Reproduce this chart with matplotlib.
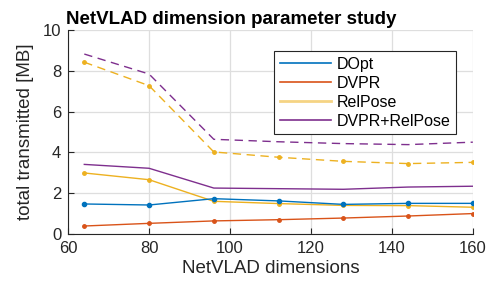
import numpy as np
import matplotlib.pyplot as plt
from matplotlib.lines import Line2D

# datos
dims = [64, 80, 96, 112, 128, 144, 160]
dopt = [1.47, 1.42, 1.73, 1.62, 1.45, 1.50, 1.50]
dopt_err = [0.10, 0.10, 0.10, 0.06, 0.05, 0.04, 0.05]
dvpr = [0.39, 0.52, 0.64, 0.70, 0.78, 0.88, 1.00]
relpose = [2.99, 2.66, 1.60, 1.49, 1.40, 1.39, 1.31]
relpose_dash = [8.42, 7.27, 4.02, 3.76, 3.56, 3.45, 3.51]
combo = [3.41, 3.22, 2.25, 2.22, 2.19, 2.30, 2.34]
combo_dash = [8.82, 7.84, 4.64, 4.52, 4.43, 4.38, 4.50]

labels = ['DOpt', 'DVPR', 'RelPose', 'DVPR+RelPose']
colors = ['#0072BD', '#D95319', '#EDB120', '#7E2F8E']

plt.rcParams['font.family'] = ['Liberation Sans', 'DejaVu Sans']

fig = plt.figure(figsize=(4.9, 2.91), dpi=100)
ax = fig.add_axes([0.139, 0.196, 0.826, 0.701])

ax.errorbar(dims, dopt, yerr=dopt_err, color=colors[0], lw=1.0,
            marker='o', ms=3, capsize=0, elinewidth=2.0)
ax.plot(dims, dvpr, color=colors[1], lw=1.0, marker='o', ms=2.5)
ax.plot(dims, relpose, color=colors[2], lw=1.0, marker='o', ms=2.5)
ax.plot(dims, combo, color=colors[3], lw=1.0)
ax.plot(dims, relpose_dash, color=colors[2], lw=1.0, ls=(0, (6, 4)), marker='o', ms=2.5)
ax.plot(dims, combo_dash, color=colors[3], lw=1.0, ls=(0, (6, 4)))

ax.set_xlim(60, 160)
ax.set_ylim(0, 10)
ax.set_xticks(np.arange(60, 161, 20))
ax.set_yticks(np.arange(0, 11, 2))
ax.grid(True, color='#dedede', lw=0.9)
ax.set_axisbelow(True)
for s in ['top', 'right']:
    ax.spines[s].set_visible(False)
for s in ['left', 'bottom']:
    ax.spines[s].set_color('#262626')
ax.tick_params(direction='in', length=4, labelsize=12, colors='#262626', pad=5)

ax.set_xlabel('NetVLAD dimensions', fontsize=13.5, color='#262626', labelpad=3)
ax.set_ylabel('total transmitted [MB]', fontsize=13.5, color='#262626', labelpad=6)
ax.set_title('NetVLAD dimension parameter study', fontsize=13.5, fontweight='bold',
             loc='left', x=-0.005, pad=4)

handles = [Line2D([], [], color=c, lw=1.2 if i != 2 else 2.0,
                  alpha=1 if i != 2 else 0.55) for i, c in enumerate(colors)]
leg = ax.legend(handles, labels, loc='upper left', bbox_to_anchor=(0.49, 0.935),
                fontsize=11.5, fancybox=False, edgecolor='#262626', framealpha=1,
                handlelength=3.2, borderpad=0.35, labelspacing=0.25, handletextpad=0.35)
leg.get_frame().set_linewidth(0.8)

fig.savefig('out.png', dpi=100)
